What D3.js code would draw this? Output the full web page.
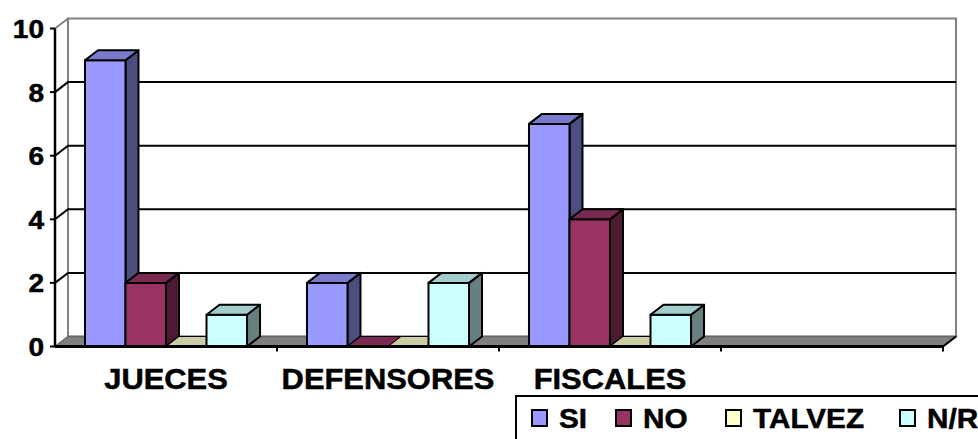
<!DOCTYPE html>
<html><head><meta charset="utf-8">
<script src="https://cdn.jsdelivr.net/npm/d3@7"></script>
<style>body{margin:0;background:#fff}svg{display:block}text{font-family:Arial,"Liberation Sans",sans-serif;font-weight:bold;fill:#000;stroke:#000;stroke-width:0.5px}</style>
</head><body><svg id="c" width="978" height="439"></svg>
<script>
const categories = ["JUECES", "DEFENSORES", "FISCALES", ""];
const seriesNames = ["SI", "NO", "TALVEZ", "N/R"];
const SI = [9, 2, 7, 0];
const NO = [2, 0, 4, 0];
const TALVEZ = [0, 0, 0, 0];
const NR = [1, 2, 1, 0];
const yTicks = [0, 2, 4, 6, 8, 10];
const seriesValues = [SI, NO, TALVEZ, NR];
const colors = ["#9999FF", "#993366", "#FFFFCC", "#CCFFFF"];

const svg = d3.select("#c");
const DX = 13, DY = 10;
const x0 = d3.scaleBand().domain(categories).range([55, 943]).padding(0);
const x1 = d3.scaleBand().domain(seriesNames).range([0, x0.bandwidth()]).paddingInner(0).paddingOuter(0.74);
const y = d3.scaleLinear().domain([0, 10]).range([346.5, 28.5]);
const shade = (c, k) => { const r = d3.rgb(c); return d3.rgb(r.r * k, r.g * k, r.b * k).toString(); };
const Y0 = y(0), YT = y(10), XL = x0.range()[0], XR = x0.range()[1];

// back wall
svg.append("rect").attr("x", XL + DX).attr("y", YT - DY).attr("width", XR - XL).attr("height", Y0 - YT)
  .attr("fill", "#fff").attr("stroke", "#808080").attr("stroke-width", 2);
// side wall top edge
svg.append("line").attr("x1", XL).attr("y1", YT).attr("x2", XL + DX).attr("y2", YT - DY)
  .attr("stroke", "#808080").attr("stroke-width", 2);
// gridlines
yTicks.filter(v => v > 0 && v < 10).forEach(v => {
  svg.append("polyline").attr("points", `${XL},${y(v)} ${XL + DX},${y(v) - DY} ${XR + DX},${y(v) - DY}`)
    .attr("fill", "none").attr("stroke", "#000").attr("stroke-width", 2);
});
// floor
svg.append("polygon").attr("points", `${XL},${Y0} ${XL + DX},${Y0 - DY} ${XR + DX},${Y0 - DY} ${XR},${Y0}`)
  .attr("fill", "#808080").attr("stroke", "#666").attr("stroke-width", 1.5);

// bars
categories.forEach((cat, ci) => {
  seriesNames.forEach((s, si) => {
    const v = seriesValues[si][ci];
    if (cat === "") return;
    const bx = x0(cat) + x1(s), w = x1.bandwidth(), ty = y(v), c = colors[si];
    const g = svg.append("g").attr("stroke", "#000").attr("stroke-width", 2).attr("stroke-linejoin", "round");
    if (v > 0) {
      g.append("polygon").attr("points", `${bx + w},${ty} ${bx + w + DX},${ty - DY} ${bx + w + DX},${Y0 - DY} ${bx + w},${Y0}`)
        .attr("fill", shade(c, 0.5));
      g.append("rect").attr("x", bx).attr("y", ty).attr("width", w).attr("height", Y0 - ty).attr("fill", c);
    }
    g.append("polygon").attr("points", `${bx},${ty} ${bx + DX},${ty - DY} ${bx + w + DX},${ty - DY} ${bx + w},${ty}`)
      .attr("fill", shade(c, 0.8)).attr("stroke-width", v > 0 ? 2 : 1);
  });
});

// axes
svg.append("line").attr("x1", XL).attr("y1", YT).attr("x2", XL).attr("y2", Y0).attr("stroke", "#000").attr("stroke-width", 2.5);
svg.append("line").attr("x1", XL).attr("y1", Y0).attr("x2", XR).attr("y2", Y0).attr("stroke", "#000").attr("stroke-width", 3);
svg.append("line").attr("x1", XR).attr("y1", Y0).attr("x2", XR + DX).attr("y2", Y0 - DY).attr("stroke", "#000").attr("stroke-width", 2);
yTicks.forEach(v => {
  svg.append("line").attr("x1", XL - 5).attr("x2", XL).attr("y1", y(v)).attr("y2", y(v)).attr("stroke", "#000").attr("stroke-width", 2);
  svg.append("text").attr("transform", `translate(44,${y(v) + 9.5}) scale(1.08,1)`).attr("text-anchor", "end")
    .style("font-size", "26px").text(v);
});
categories.forEach((cat, i) => {
  const xr = x0(cat) + x0.bandwidth();
  svg.append("line").attr("x1", xr).attr("x2", xr).attr("y1", Y0).attr("y2", Y0 + 5).attr("stroke", "#000").attr("stroke-width", 2);
  svg.append("text").attr("transform", `translate(${x0(cat) + x0.bandwidth() / 2},389) scale(1.03,1)`)
    .attr("text-anchor", "middle").style("font-size", "30px").text(cat);
});

// legend
svg.append("rect").attr("x", 516).attr("y", 396).attr("width", 480).attr("height", 60)
  .attr("fill", "#fff").attr("stroke", "#000").attr("stroke-width", 2);
const legX = [532, 616, 726, 900];
seriesNames.forEach((s, i) => {
  svg.append("rect").attr("x", legX[i]).attr("y", 410).attr("width", 15).attr("height", 16)
    .attr("fill", colors[i]).attr("stroke", "#000").attr("stroke-width", 2);
  svg.append("text").attr("transform", `translate(${legX[i] + 27},428) scale(1.1,1)`)
    .style("font-size", "27px").text(s);
});
</script></body></html>
